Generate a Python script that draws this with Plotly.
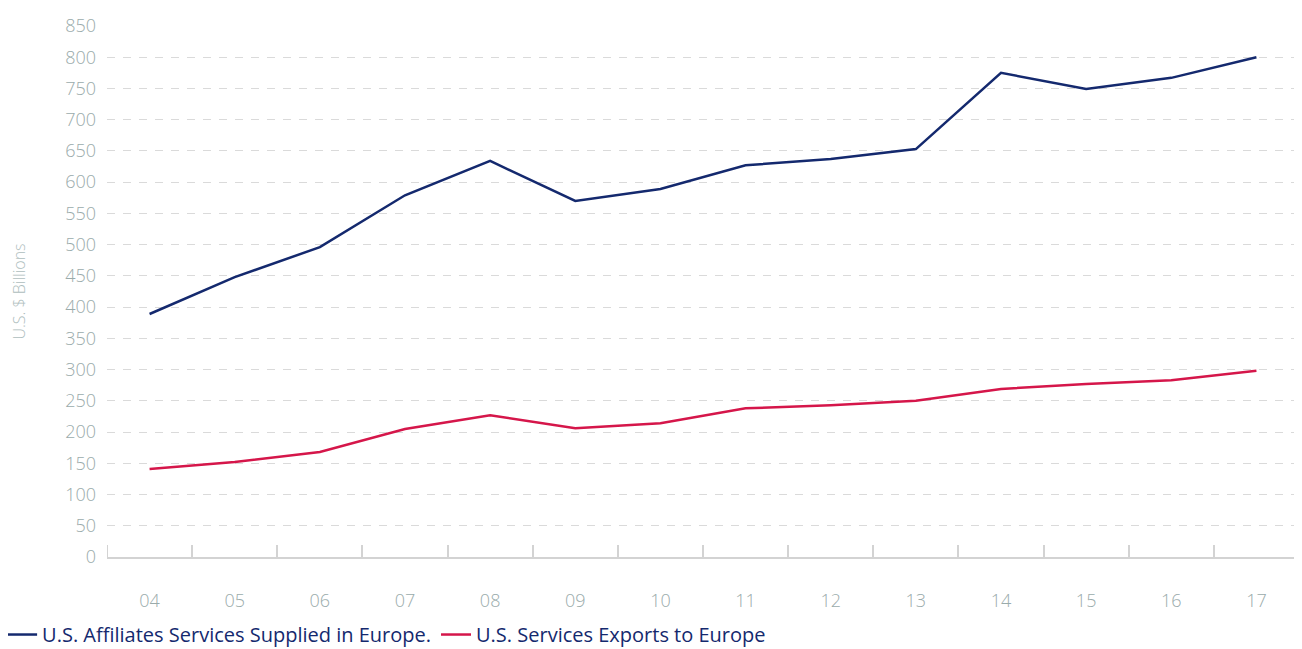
import plotly.graph_objects as go

years = ["04", "05", "06", "07", "08", "09", "10", "11", "12", "13", "14", "15", "16", "17"]
affiliates = [389, 448, 496, 579, 634, 570, 589, 627, 637, 653, 775, 749, 767, 800]
exports = [141, 152, 168, 205, 227, 206, 214, 238, 243, 250, 269, 277, 283, 298]
yticks = list(range(0, 851, 50))

AXIS_GRAY = "#d3d3d3"
LABEL = "#9aabab"

fig = go.Figure()
fig.add_trace(go.Scatter(x=years, y=affiliates, mode="lines",
                         name="U.S. Affiliates Services Supplied in Europe.",
                         line=dict(color="#14296e", width=2.5)))
fig.add_trace(go.Scatter(x=years, y=exports, mode="lines",
                         name="U.S. Services Exports to Europe",
                         line=dict(color="#d5164a", width=2.5)))

# edge ticks on the category axis (boundary ticks at both ends)
for xb in (-0.5, len(years) - 0.5):
    fig.add_shape(type="line", xref="x", yref="paper", x0=xb, x1=xb, y0=0, y1=12 / 531,
                  line=dict(color=AXIS_GRAY, width=2), layer="below")

fig.update_layout(
    width=1294, height=641,
    margin=dict(l=99, r=3, t=18, b=92, autoexpand=False),
    plot_bgcolor="white", paper_bgcolor="white",
    font=dict(family="Open Sans, sans-serif", color=LABEL),
    showlegend=True,
    legend=dict(orientation="h", x=-0.088, xanchor="left", y=-0.146, yanchor="middle",
                font=dict(size=20, color="#14296e"), itemwidth=30, tracegroupgap=0,
                bgcolor="rgba(0,0,0,0)"),
    xaxis=dict(type="category", tickson="boundaries", ticks="inside", ticklen=12,
               tickwidth=2, tickcolor=AXIS_GRAY, showline=True, linecolor=AXIS_GRAY,
               linewidth=2, showgrid=False,
               tickfont=dict(size=18, color=LABEL, weight=300),
               ticklabelstandoff=26, range=[-0.5, 13.5], automargin=False),
    yaxis=dict(range=[0, 850], tickvals=yticks, showgrid=True, gridcolor="#dadada",
               griddash="8px,8px", gridwidth=1, zeroline=False, showline=False,
               tickfont=dict(size=18, color=LABEL, weight=300), ticklabelstandoff=10,
               automargin=False,
               title=dict(text="U.S. $ Billions",
                          font=dict(size=16, color="#aebdbd", weight=300),
                          standoff=40)),
)

fig.write_html("out.html")
